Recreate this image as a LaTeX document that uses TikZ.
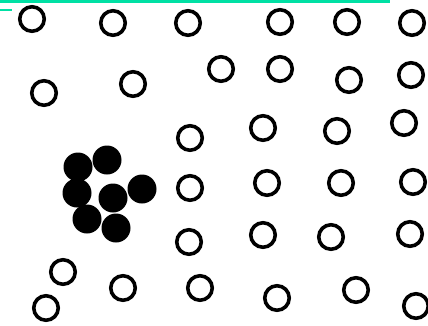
\documentclass[tikz,border=0pt]{standalone}
\begin{document}
\begin{tikzpicture}[x=1pt,y=-1pt,
  opencirc/.style={circle,draw=black,line width=3.6pt,minimum size=24.5pt,inner sep=0pt,fill=white},
  fullcirc/.style={circle,fill=black,minimum size=29pt,inner sep=0pt},
  tealbar/.style={fill={rgb,255:red,0;green,224;blue,164},draw=none}]
\useasboundingbox (0,0) rectangle (428,325);
\fill[white] (0,0) rectangle (428,325);
\fill[tealbar] (0,0) rectangle (390,3);
\fill[tealbar] (0,8.6) rectangle (12,10.6);
% open circles
\foreach \x/\y [count=\i] in {32/19,113/23,188/23,280/22,347/22,412/23,
  44/93,133/84,221/69,280/69,349/80,411/75,
  190/138,263/128,337/131,404/123,
  190/188,267/183,341/183,413/182,
  189/242,263/235,331/237,410/234,
  63/272,123/288,200/288,277/298,356/290,416/306,46/308}
  \node[opencirc] (o\i) at (\x,\y) {};
% filled cluster
\foreach \x/\y [count=\i] in {78/167,107/160,77/193,142/189,113/198,87/219,116/228}
  \node[fullcirc] (f\i) at (\x,\y) {};
\end{tikzpicture}
\end{document}
